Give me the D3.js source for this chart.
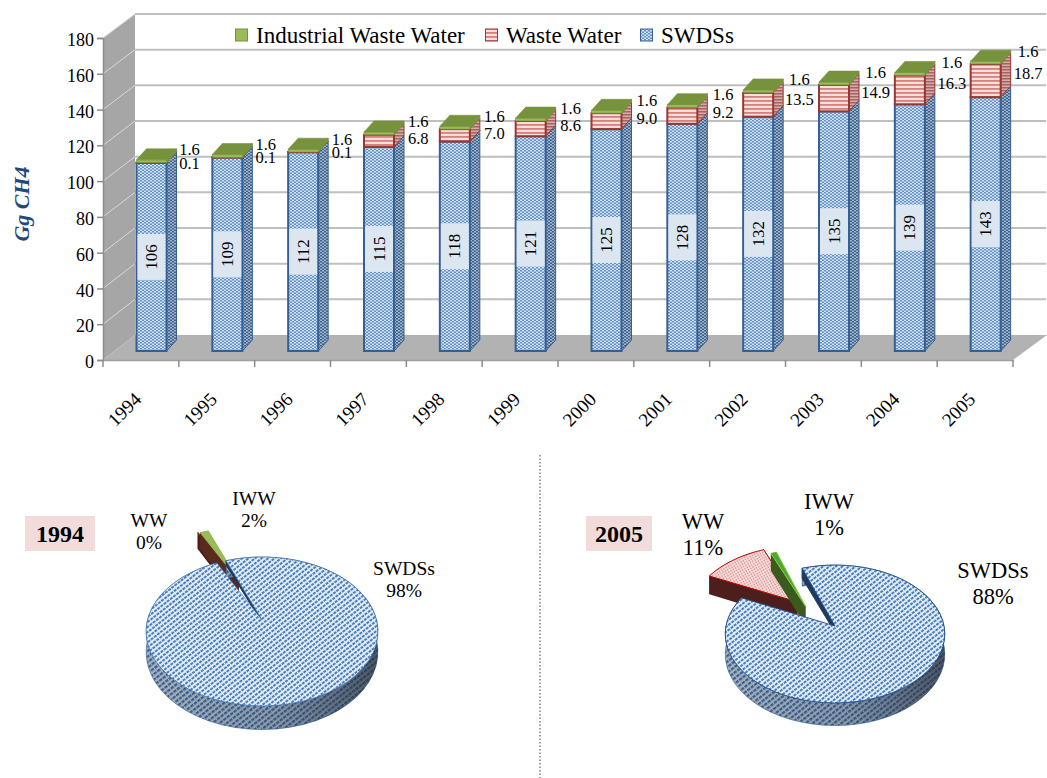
<!DOCTYPE html>
<html><head><meta charset="utf-8">
<script src="https://cdn.jsdelivr.net/npm/d3@7/dist/d3.min.js"></script>
<style>html,body{margin:0;padding:0;background:#fff}svg{display:block}text{font-family:"Liberation Serif",serif;fill:#000}</style>
</head><body><svg id="c" width="1047" height="778"></svg>
<script>
const years=[1994,1995,1996,1997,1998,1999,2000,2001,2002,2003,2004,2005];
const swds=[106,109,112,115,118,121,125,128,132,135,139,143];
const ww=[0.1,0.1,0.1,6.8,7.0,8.6,9.0,9.2,13.5,14.9,16.3,18.7];
const iww=[1.6,1.6,1.6,1.6,1.6,1.6,1.6,1.6,1.6,1.6,1.6,1.6];
const yTicks=[0,20,40,60,80,100,120,140,160,180];
const legendNames=["Industrial Waste Water","Waste Water","SWDSs"];
const pie1994=[106,0.1,1.6];
const pie2005=[143,18.7,1.6];
const pieNames=["SWDSs","WW","IWW"];
const pct1994=["98%","0%","2%"];
const pct2005=["88%","11%","1%"];

const svg=d3.select("#c");
const defs=svg.append("defs");
function checker(id,a,b,w,h){
  const p=defs.append("pattern").attr("id",id).attr("patternUnits","userSpaceOnUse").attr("width",w).attr("height",h);
  p.append("rect").attr("width",w).attr("height",h).attr("fill",a);
  p.append("rect").attr("width",w/2).attr("height",h/2).attr("fill",b);
  p.append("rect").attr("x",w/2).attr("y",h/2).attr("width",w/2).attr("height",h/2).attr("fill",b);
}
function hatch(id,a,b,s,sw,rot,gap){
  const p=defs.append("pattern").attr("id",id).attr("patternUnits","userSpaceOnUse").attr("width",s).attr("height",s)
    .attr("patternTransform",`rotate(${rot})`);
  p.append("rect").attr("width",s).attr("height",s).attr("fill",a);
  p.append("rect").attr("width",s).attr("height",sw).attr("fill",b);
  if(gap) p.append("rect").attr("width",gap).attr("height",s).attr("fill",a);
}
checker("blueFront","#d3e2f3","#6191c8",4,3);
checker("blueSide","#a3b5ca","#3c628f",4,3);
hatch("redFront","#f6e0df","#d67f7c",4,1.8,0,0);
hatch("redSide","#d5aaa8","#a56462",3,1.5,0,0);
hatch("blueTop","#e2ecf7","#4a7ebb",4,2,-38,1);
hatch("blueRim","#aab6c4","#3a5f8c",4.4,2.2,-38,1);
hatch("redTop","#f6dcdb","#d88f8d",2.6,1.2,60,1);
const shade=defs.append("linearGradient").attr("id","rimShade");
shade.append("stop").attr("offset","0").attr("stop-color","#243550").attr("stop-opacity",0.02);
shade.append("stop").attr("offset","0.55").attr("stop-color","#243550").attr("stop-opacity",0.22);
shade.append("stop").attr("offset","1").attr("stop-color","#242c38").attr("stop-opacity",0.7);

// ---- bar chart frame
const yFront=d3.scaleLinear().domain([0,180]).range([360,38]);
const yBack=d3.scaleLinear().domain([0,180]).range([335,14]);
const yBar=d3.scaleLinear().domain([0,180]).range([351,31.5]);
const xBand=d3.scaleBand().domain(years).range([103,1013]);
const gridC="#bfbfbf";
svg.append("path").attr("d",`M103,${yFront(180)}L135,${yBack(180)}L135,${yBack(0)}L103,${yFront(0)}Z`).attr("fill","#a6a6a6");
svg.append("path").attr("d",`M103,${yFront(0)}L135,${yBack(0)}L1047,${yBack(0)}L1013,${yFront(0)}Z`).attr("fill","#b2b2b2");
svg.selectAll(".g").data(yTicks.slice(1)).join("line").attr("x1",135).attr("x2",1046)
  .attr("y1",d=>yBack(d)).attr("y2",d=>yBack(d)).attr("stroke",gridC).attr("stroke-width",2);
svg.selectAll(".w").data(yTicks.slice(1,-1)).join("line").attr("x1",103).attr("x2",135)
  .attr("y1",d=>yFront(d)).attr("y2",d=>yBack(d)).attr("stroke","#d9d9d9").attr("stroke-width",1);
svg.append("line").attr("x1",103).attr("x2",135).attr("y1",yFront(180)).attr("y2",yBack(180)).attr("stroke","#d9d9d9");

// axes
const axY=svg.append("g").attr("transform","translate(103,0)").call(d3.axisLeft(yFront).tickValues(yTicks).tickSize(6).tickPadding(3));
axY.selectAll("text").style("font-size","18px").style("font-family","'Liberation Serif',serif").attr("dy","0.42em");
axY.selectAll("line,path").attr("stroke","#8c8c8c").attr("stroke-width",1.5);
const axX=svg.append("g").attr("transform","translate(0,360)").call(d3.axisBottom(xBand).tickSize(0).tickFormat(""));
axX.selectAll("path").attr("stroke","#a0a0a0").attr("stroke-width",1.5);
svg.selectAll(".xt").data(d3.range(13)).join("line")
  .attr("x1",i=>103+i*xBand.step()).attr("x2",i=>103+i*xBand.step()).attr("y1",360).attr("y2",367)
  .attr("stroke","#8c8c8c").attr("stroke-width",1.5);
svg.selectAll(".xl").data(years).join("text")
  .attr("transform",d=>`translate(${xBand(d)+xBand.bandwidth()/2-12},${414}) rotate(-45)`)
  .attr("text-anchor","middle").style("font-size","19px").text(d=>d);
svg.append("text").attr("transform","translate(29,204) rotate(-90)").attr("text-anchor","middle")
  .style("font-size","22px").style("font-weight","bold").style("font-style","italic").style("fill","#1f497d").text("Gg CH4");

// ---- bars
const BW=30,dx=10,dy=-11;
const segs=[
 {vals:swds,base:()=>0,front:"url(#blueFront)",side:"url(#blueSide)",stroke:"#366092",sw:2},
 {vals:ww,base:i=>swds[i],front:"url(#redFront)",side:"url(#redSide)",stroke:"#953735",sw:2},
 {vals:iww,base:i=>swds[i]+ww[i],front:"#9bbb59",side:"#76923c",stroke:"#76923c",sw:.6}
];
years.forEach((yr,i)=>{
  const x0=xBand(yr)+33.5, g=svg.append("g");
  segs.forEach(s=>{
    const yb=yBar(s.base(i)), yt=yBar(s.base(i)+s.vals[i]), x1=x0+BW;
    g.append("path").attr("d",`M${x1},${yb}L${x1+dx},${yb+dy}L${x1+dx},${yt+dy}L${x1},${yt}Z`)
      .attr("fill",s.side).attr("stroke",s.stroke).attr("stroke-width",1);
    g.append("rect").attr("x",x0).attr("y",yt).attr("width",BW).attr("height",yb-yt)
      .attr("fill",s.front).attr("stroke",s.stroke).attr("stroke-width",s.sw);
  });
  const tot=swds[i]+ww[i]+iww[i], yt=yBar(tot);
  g.append("path").attr("d",`M${x0},${yt}L${x0+dx},${yt+dy}L${x0+BW+dx},${yt+dy}L${x0+BW},${yt}Z`).attr("fill","#76923c").attr("stroke","#76923c").attr("stroke-width",.6);
  // value labels
  const c=x0+BW/2, m=yBar(swds[i]/2);
  g.append("rect").attr("x",x0+1).attr("y",m-23).attr("width",BW-2).attr("height",46).attr("fill","#dce6f1");
  g.append("text").attr("transform",`translate(${c+5.5},${m}) rotate(-90)`).attr("text-anchor","middle").style("font-size","17px").text(swds[i]);
  g.append("text").attr("x",x0+53+i*.4).attr("y",yt-4.5).attr("text-anchor","middle").style("font-size","16.5px").text(iww[i].toFixed(1));
  g.append("text").attr("x",x0+53+i*.4).attr("y",yBar(swds[i]+ww[i]/2)+6-ww[i]*0.4).attr("text-anchor","middle").style("font-size","16.5px").text(ww[i].toFixed(1));
});

// legend
const legX=[235,485,640],legFill=["#9bbb59","#e6b8b7","#95b3d7"],legStroke=["#76923c","#953735","#366092"];
legendNames.forEach((n,i)=>{
  svg.append("rect").attr("x",legX[i]+.5).attr("y",29).attr("width",12).attr("height",12)
    .attr("fill",i==0?legFill[0]:i==1?"url(#redFront)":"url(#blueFront)").attr("stroke",legStroke[i]);
  svg.append("text").attr("x",legX[i]+21).attr("y",43).style("font-size","23px").text(n);
});

// ---- pies
const line=d3.line();
function drawPie(vals,cfg){
  const arcs=d3.pie().sort(null).startAngle(cfg.start).endAngle(cfg.start+2*Math.PI)(vals);
  const P=(u,v,ofs,down)=>{
    const U=u+ofs[0],V=v+ofs[1],den=1+cfg.k*V;
    const yy=cfg.a*V/den;
    return [cfg.cx+cfg.b*U/den, cfg.cy+yy+(down?down/den:0)];
  };
  const arcPts=(a0,a1,ofs,down)=>d3.range(0,61).map(j=>{
    const t=a0+(a1-a0)*j/60;
    return P(Math.sin(t),-Math.cos(t),ofs,down);
  });
  const g=svg.append("g");
  [1,2,0].forEach(i=>{
    const s=arcs[i],ofs=cfg.ofs[i],st=cfg.sty[i];
    const D=cfg.D;
    const rim=arcPts(s.startAngle,s.endAngle,ofs,0),rimB=arcPts(s.startAngle,s.endAngle,ofs,D);
    const apex=P(0,0,ofs,0),apexB=P(0,0,ofs,i==0?0:D);
    if(i==0){
      g.append("path").attr("d",line(rim.concat(rimB.slice().reverse()))+"Z").attr("fill","url(#blueRim)").attr("stroke","#2f5f97").attr("stroke-width",.6);
      g.append("path").attr("d",line(rim.concat(rimB.slice().reverse()))+"Z").attr("fill","url(#rimShade)");
      const wallD=cfg.wall;
      g.append("path").attr("d",line([apex,rim[0],P(Math.sin(s.startAngle),-Math.cos(s.startAngle),ofs,wallD),P(0,0,ofs,wallD*.6)])+"Z").attr("fill","#1f3a5f").attr("stroke","#1f3a5f");
    } else {
      const qa=[apex,rim[0],rimB[0],apexB],qb=[apex,rim[60],rimB[60],apexB];
      g.append("path").attr("d",line(rim.concat(rimB.slice().reverse()))+"Z").attr("fill",st.side);
      g.append("path").attr("d",line(qa)+"Z").attr("fill",st.side);
      g.append("path").attr("d",line(qb)+"Z").attr("fill",st.side);
    }
    g.append("path").attr("d",line([apex].concat(rim))+"Z").attr("fill",st.top).attr("stroke",st.stroke).attr("stroke-width",st.sw);
  });
  pieNames.forEach((n,i)=>{
    const L=cfg.lab[i];
    g.append("text").attr("x",L[0]).attr("y",L[1]).attr("text-anchor","middle").style("font-size",cfg.fs+"px").text(n);
    g.append("text").attr("x",L[0]).attr("y",L[1]+cfg.lh).attr("text-anchor","middle").style("font-size",cfg.fs+"px").text(cfg.pct[i]);
  });
}
const rad=d=>d*Math.PI/180;
drawPie(pie1994,{cx:262,cy:620,a:72.7,b:114.5,k:-0.154,D:20,wall:5,start:rad(-21),
  ofs:[[0,0],[-.24,-.58],[-.22,-.58]],fs:19.5,lh:22,pct:pct1994,
  lab:[[404,575],[149,527],[254,505]],
  sty:[{top:"url(#blueTop)",stroke:"#3f75b0",sw:.7},{top:"#4f1f18",side:"#4f1f18",stroke:"#953735",sw:.8},{top:"#9bbb59",side:"#5a2a1e",stroke:"#9bd04f",sw:.6}]});
drawPie(pie2005,{cx:835,cy:626,a:68,b:109,k:-0.116,D:20,wall:11,start:rad(-19.5),
  ofs:[[0,0],[-.36,-.37],[-.28,-.3]],fs:22.5,lh:26,pct:pct2005,
  lab:[[993,578],[703,529],[829,509]],
  sty:[{top:"url(#blueTop)",stroke:"#1f4e8c",sw:.9},{top:"url(#redTop)",side:"#4d1f1c",stroke:"#c00000",sw:1},{top:"#4ea72e",side:"#3a5a1e",stroke:"#92d050",sw:1}]});

const tags=[{t:years[0],x:25,w:70},{t:years[11],x:586,w:66}];
tags.forEach(o=>{
  svg.append("rect").attr("x",o.x).attr("y",516).attr("width",o.w).attr("height",35).attr("fill","#f2dcdb");
  svg.append("text").attr("x",o.x+o.w/2).attr("y",542).attr("text-anchor","middle").style("font-size","24px").style("font-weight","bold").text(o.t);
});
svg.append("line").attr("x1",540).attr("x2",540).attr("y1",455).attr("y2",778).attr("stroke","#404040").attr("stroke-dasharray","1.5 2");
</script></body></html>
